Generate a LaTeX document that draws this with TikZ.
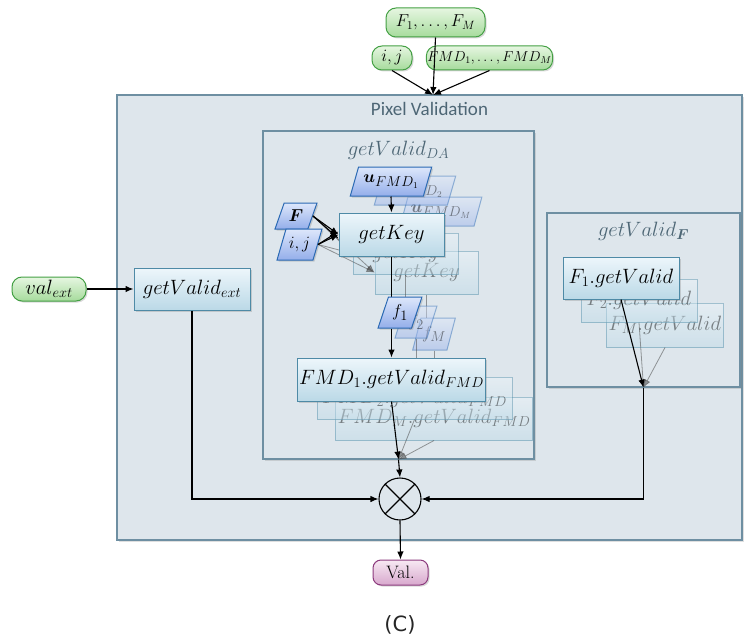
\documentclass[tikz,border=0pt]{standalone}
\usepackage{fontspec}
\usepackage{bm}
\newfontfamily\titlefont{Carlito}
\newfontfamily\capfont{DejaVu Sans}
\usetikzlibrary{positioning, calc, arrows.meta, shapes.geometric, shadows}

\definecolor{bgfill}{HTML}{DEE6EC}
\definecolor{bgdraw}{HTML}{6E8FA2}
\definecolor{boxtop}{HTML}{EDF6FB}
\definecolor{boxbot}{HTML}{BBD9E7}
\definecolor{boxdraw}{HTML}{4E8AA6}
\definecolor{partop}{HTML}{DDE7FB}
\definecolor{parbot}{HTML}{94AEEA}
\definecolor{pardraw}{HTML}{2A69B3}
\definecolor{termtop}{HTML}{E6F6E1}
\definecolor{termbot}{HTML}{A6DB9C}
\definecolor{termdraw}{HTML}{44A044}
\definecolor{valtop}{HTML}{F7E9F3}
\definecolor{valbot}{HTML}{D8A8CD}
\definecolor{valdraw}{HTML}{8C3A7D}
\definecolor{titlecol}{HTML}{4D6675}

\begin{document}
\begin{tikzpicture}[x=1pt, y=-1pt,
    panel/.style={draw=bgdraw, fill=bgfill, line width=1.2pt,
      drop shadow={shadow xshift=1.5pt, shadow yshift=-1.5pt, opacity=0.25}},
    blk/.style={draw=boxdraw, top color=boxtop, bottom color=boxbot, line width=1pt,
      inner sep=2pt, font=\fontsize{20}{22}\selectfont},
    shad/.style={drop shadow={shadow xshift=1.5pt, shadow yshift=-1.5pt, opacity=0.3}},
    ghost/.style={opacity=0.45},
    para/.style={trapezium, trapezium left angle=65, trapezium right angle=115,
      trapezium stretches=true, draw=pardraw, top color=partop, bottom color=parbot,
      line width=1pt, inner sep=1pt, font=\fontsize{19}{21}\selectfont},
    term/.style={draw=termdraw, top color=termtop, bottom color=termbot, line width=1pt,
      rounded corners=10pt, inner sep=1pt, shad},
    outp/.style={draw=valdraw, top color=valtop, bottom color=valbot, line width=1pt,
      rounded corners=8pt, inner sep=1pt, shad},
    ttl/.style={text=titlecol, inner sep=0pt},
    arr/.style={-{Latex[length=8pt, width=6.5pt]}, line width=1.1pt},
    ghostarr/.style={arr, draw=black!70, opacity=0.55, line width=0.8pt},
    ghostline/.style={draw=black!70, opacity=0.55, line width=0.8pt},
  ]
  \useasboundingbox (0,0) rectangle (744,642);

  % panels
  \node[panel, minimum width=625, minimum height=445] (pixval) at (429.5,317.5) {};
  \node[ttl, below=8pt of pixval.north, font=\titlefont\fontsize{19}{21}\selectfont] (pvtitle) {Pixel Validation};
  \node[panel, minimum width=271, minimum height=328] (da) at (398.5,295) {};
  \node[ttl, below=10pt of da.north, font=\fontsize{21}{23}\selectfont] (datitle) {$getValid_{DA}$};
  \node[panel, minimum width=193, minimum height=174] (vf) at (643.5,300) {};
  \node[ttl, below=9pt of vf.north, font=\fontsize{21}{23}\selectfont] (vftitle) {$getValid_{\bm{F}}$};

  % inputs
  \node[term, minimum width=99, minimum height=29, font=\fontsize{18}{20}\selectfont] (fF) at (435.5,22.5) {$F_1,\ldots,F_M$};
  \node[term, minimum width=40, minimum height=24, font=\fontsize{17}{19}\selectfont] (fij) at (392,58) {$i,j$};
  \node[term, minimum width=107, minimum height=24, font=\fontsize{14}{16}\selectfont] (fFMD) at (489.5,58) {$FMD_1,\ldots,FMD_M$};
  \node[term, minimum width=74, minimum height=24, font=\fontsize{22}{24}\selectfont] (valext) at (49,289) {$val_{ext}$};
  \coordinate (join) at (433,95);

  % external validity
  \node[blk, shad, minimum width=116, minimum height=42] (ext) at (192,289) {$getValid_{ext}$};

  % getValid_DA
  \node[para, ghost, minimum width=82, minimum height=29] (uM) at (441,211.5) {$\bm{u}_{FMD_M}$};
  \node[para, ghost, minimum width=82, minimum height=29] (u2) at (415,190.5) {$\bm{u}_{FMD_2}$};
  \node[blk, ghost, minimum width=103, minimum height=43] (keyM) at (426.5,272.5) {$getKey$};
  \node[blk, ghost, minimum width=105, minimum height=41] (key2) at (405.5,253.5) {$getKey$};
  \node[para, shad, minimum width=82, minimum height=29] (u1) at (391,181.5) {$\bm{u}_{FMD_1}$};
  \node[para, shad, minimum width=42, minimum height=26] (pF) at (296,216) {$\bm{F}$};
  \node[para, shad, minimum width=45, minimum height=31] (pij) at (299.5,244.5) {$i,j$};
  \draw[ghostarr] (pF.east) -- (key2.west);
  \draw[ghostarr] (pF.east) -- (keyM.west);
  \draw[ghostarr] (pij.east) -- (key2.west);
  \draw[ghostarr] (pij.east) -- (keyM.west);
  \node[blk, shad, minimum width=105, minimum height=43] (key1) at (391.5,234.5) {$getKey$};
  \draw[arr] (pF.east) -- (key1.west);
  \draw[arr] (pij.east) -- (key1.west);
  \draw[arr] (pF.east) -- ([yshift=-4pt]key1.west);
  \draw[arr] (pij.east) -- ([yshift=3pt]key1.west);
  \draw[arr] (u1.south) -- (key1.north);

  \draw[ghostline] (key2.south) -- (key2.south |- 306,306);
  \draw[ghostline] (keyM.south) -- (keyM.south |- 318,318);
  \draw[line width=1.1pt] (key1.south) -- (key1.south |- 297,297);
  \node[para, ghost, minimum width=42, minimum height=32] (fM) at (434,334) {$f_M$};
  \node[para, ghost, minimum width=42, minimum height=32] (f2) at (416,322) {$f_2$};
  \node[para, shad, minimum width=44, minimum height=31] (f1) at (400,312.5) {$f_1$};

  \node[blk, ghost, minimum width=190, minimum height=43] (vM) at (434,418.5) {$FMD_M.getValid_{FMD}$};
  \node[blk, ghost, minimum width=195, minimum height=42] (v2) at (414.5,398) {$FMD_2.getValid_{FMD}$};
  \draw[ghostline] (f2.south) -- (f2.south |- v2.north);
  \draw[ghostline] (fM.south) -- (fM.south |- vM.north);
  \draw[ghostarr] (v2.south) -- (da.south);
  \draw[ghostarr] (vM.south) -- (da.south);
  \node[blk, shad, minimum width=185, minimum height=43] (v1) at (391.5,379.5) {$FMD_1.getValid_{FMD}$};
  \draw[arr] (key1.south |- f1.south) -- (key1.south |- v1.north);
  \draw[arr] (v1.south) -- (da.south);

  % getValid_F
  \node[blk, ghost, minimum width=116, minimum height=44] (gM) at (665,325) {$F_M.getValid$};
  \node[blk, ghost, minimum width=116, minimum height=43] (g2) at (639,300.5) {$F_2.getValid$};
  \draw[ghostarr] (g2.south) -- (vf.south);
  \draw[ghostarr] (gM.south) -- (vf.south);
  \node[blk, shad, minimum width=116, minimum height=42] (g1) at (621,278) {$F_1.getValid$};
  \draw[arr] (g1.south) -- (vf.south);

  % combination
  \node[circle, draw, line width=1.1pt, minimum size=42, inner sep=0pt] (mult) at (400,499) {};
  \draw[line width=1.1pt] (mult.north west) -- (mult.south east)
    (mult.north east) -- (mult.south west);
  \node[outp, minimum width=55, minimum height=25, font=\fontsize{18}{20}\selectfont] (val) at (400.5,572.5) {Val.};
  \node[font=\capfont\fontsize{21}{23}\selectfont, text=black!85] (cap) at (400,625) {(C)};

  % connectors
  \draw[arr] (fF.south) -- (join);
  \draw[arr] (fij.south) -- (join);
  \draw[arr] (fFMD.south) -- (join);
  \draw[arr] (valext.east) -- (ext.west);
  \draw[arr] (ext.south) |- (mult.west);
  \draw[arr] (da.south) -- (mult.north);
  \draw[arr] (vf.south) |- (mult.east);
  \draw[arr] (mult.south) -- (val.north);
\end{tikzpicture}
\end{document}
